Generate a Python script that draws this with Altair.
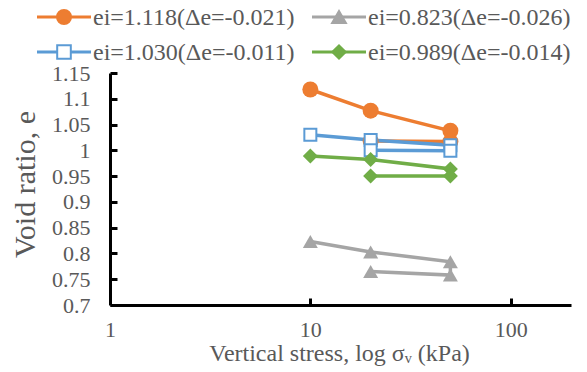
import altair as alt
import pandas as pd

# ---------------- data ----------------
series_names = [
    "ei=1.118(Δe=-0.021)",
    "ei=0.823(Δe=-0.026)",
    "ei=1.030(Δe=-0.011)",
    "ei=0.989(Δe=-0.014)",
]
stress = [10, 20, 50, 50, 20]
e_orange = [1.118, 1.077, 1.038, 1.017, 1.018]
e_gray = [0.823, 0.803, 0.784, 0.758, 0.765]
e_blue = [1.030, 1.020, 1.010, 0.999, 1.000]
e_green = [0.989, 0.982, 0.964, 0.950, 0.950]
series_values = [e_orange, e_gray, e_blue, e_green]

y_ticks = [0.7, 0.75, 0.8, 0.85, 0.9, 0.95, 1.0, 1.05, 1.1, 1.15]
x_ticks = [1, 10, 100]
x_inner_ticks = [10, 100]

# ---------------- styles ----------------
colors = ["#ED7D31", "#A5A5A5", "#5B9BD5", "#70AD47"]
fills = ["#ED7D31", "#A5A5A5", "#FFFFFF", "#70AD47"]
shapes = ["circle", "triangle-up", "square", "diamond"]
sizes = [256, 225, 144, 225]
stroke_w = [0, 0, 2, 0]
legend_sizes = [196, 180, 144, 180]

FONT = "Liberation Serif"
TXT = "#595959"

rows = []
for name, vals in zip(series_names, series_values):
    for step, (s, v) in enumerate(zip(stress, vals)):
        rows.append({"series": name, "stress": s, "e": v, "step": step})
df = pd.DataFrame(rows)

# legend table: two entries per row, in series order
legend_df = pd.DataFrame({
    "series": series_names,
    "col": [i % 2 for i in range(len(series_names))],
    "row": [i // 2 for i in range(len(series_names))],
})

xscale = alt.Scale(type="log", domain=[1, 200], nice=False)
yscale = alt.Scale(domain=[0.7, 1.15], zero=False, nice=False)

# legend layout scales (plot-relative pixels)
leg_x = alt.Scale(type="point", domain=[0, 1], range=[-46, 229], padding=0)
leg_y = alt.Scale(type="point", domain=[0, 1], range=[-56, -21], padding=0)

x_main_axis = alt.Axis(
    orient="bottom", values=x_ticks, format="~g", ticks=False, tickSize=0,
    labelPadding=14, labelFont=FONT, labelFontSize=22, labelColor=TXT,
    labelFlush=False, labelOverlap=False, domainColor="black", domainWidth=3,
    grid=False, title="Vertical stress, log σᵥ (kPa)", titleFont=FONT,
    titleFontSize=24, titleFontWeight="normal", titleColor=TXT,
    titleX=229, titleY=55, titleAlign="center", titleBaseline="alphabetic",
)
y_main_axis = alt.Axis(
    orient="left", values=y_ticks, format="~g", ticks=False, tickSize=0,
    labelPadding=20, labelFont=FONT, labelFontSize=22, labelColor=TXT,
    labelFlush=False, labelOverlap=False, domainColor="black", domainWidth=3,
    grid=False, title="Void ratio, e", titleFont=FONT, titleFontSize=30,
    titleFontWeight="normal", titleColor=TXT, titleX=-85, titleY=111,
    titleAngle=270, titleAlign="center", titleBaseline="middle",
)
x_tick_axis = alt.Axis(
    orient="bottom", offset=-7, values=x_inner_ticks, labels=False, domain=False,
    ticks=True, tickSize=7, tickWidth=3, tickColor="black", grid=False, title=None,
)
y_tick_axis = alt.Axis(
    orient="left", offset=-7, values=y_ticks, labels=False, domain=False,
    ticks=True, tickSize=7, tickWidth=3, tickColor="black", grid=False, title=None,
)

color_scale = alt.Scale(domain=series_names, range=colors)

base = alt.Chart(df)

lines = base.mark_line(strokeWidth=3.5).encode(
    x=alt.X("stress:Q", scale=xscale, axis=x_main_axis),
    y=alt.Y("e:Q", scale=yscale, axis=y_main_axis),
    color=alt.Color("series:N", scale=color_scale, legend=None),
    detail="series:N",
    order=alt.Order("step:Q"),
)

point_layers = []
for i, name in enumerate(series_names):
    xa = x_tick_axis if i == 0 else None
    ya = y_tick_axis if i == 0 else None
    pl = base.transform_filter(alt.datum.series == name).mark_point(
        shape=shapes[i], size=sizes[i], filled=True, fill=fills[i],
        stroke=colors[i], strokeWidth=stroke_w[i], opacity=1,
    ).encode(
        x=alt.X("stress:Q", scale=xscale, axis=xa),
        y=alt.Y("e:Q", scale=yscale, axis=ya),
    )
    point_layers.append(pl)

# ---------------- legend drawn as marks ----------------
lbase = alt.Chart(legend_df)

leg_lines = lbase.mark_rule(strokeWidth=3, xOffset=-27, x2Offset=27).encode(
    x=alt.X("col:O", scale=leg_x, axis=None),
    x2="col:O",
    y=alt.Y("row:O", scale=leg_y, axis=None),
    color=alt.Color("series:N", scale=color_scale, legend=None),
)

leg_marks = lbase.mark_point(opacity=1, filled=True, strokeWidth=2).encode(
    x=alt.X("col:O", scale=leg_x, axis=None),
    y=alt.Y("row:O", scale=leg_y, axis=None),
    shape=alt.Shape("series:N", scale=alt.Scale(domain=series_names, range=shapes), legend=None),
    fill=alt.Fill("series:N", scale=alt.Scale(domain=series_names, range=fills), legend=None),
    stroke=alt.Stroke("series:N", scale=alt.Scale(domain=series_names, range=colors), legend=None),
    size=alt.Size("series:N", scale=alt.Scale(domain=series_names, range=legend_sizes), legend=None),
)

leg_text = lbase.mark_text(
    align="left", baseline="middle", dx=29, dy=1,
    font=FONT, fontSize=24, color=TXT,
).encode(
    x=alt.X("col:O", scale=leg_x, axis=None),
    y=alt.Y("row:O", scale=leg_y, axis=None),
    text="series:N",
)

chart = alt.layer(lines, *point_layers, leg_lines, leg_marks, leg_text).resolve_scale(
    x="independent", y="independent"
).resolve_axis(
    x="independent", y="independent"
).properties(
    width=461, height=232,
    padding={"left": 110, "top": 73, "right": 16, "bottom": 67},
    autosize=alt.AutoSizeParams(type="none"),
    background="white",
).configure_view(stroke=None)

chart.save("out.html", embed_options={"renderer": "svg", "actions": False})
